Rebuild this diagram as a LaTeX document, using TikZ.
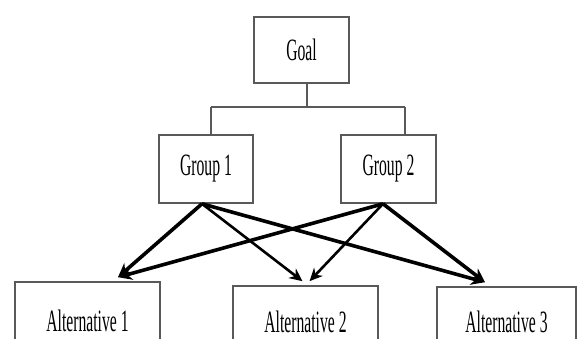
\documentclass[tikz,border=0pt]{standalone}
\usepackage{fontspec}
\setmainfont{Liberation Serif}
\usetikzlibrary{arrows.meta}
\newcommand{\nar}[1]{\scalebox{0.58}[1.15]{#1}}
\begin{document}
\begin{tikzpicture}[x=1pt,y=-1pt,
  box/.style={draw=black!65,line width=1.6pt,fill=white,inner sep=0pt,
    text=black,font=\fontsize{27}{32}\selectfont},
  link/.style={draw=black!65,line width=1.4pt},
  arr/.style={draw=black,line width=3.6pt,-{Stealth[length=14pt,width=13pt]}},
  arrthin/.style={draw=black,line width=2.6pt,-{Stealth[length=13pt,width=12pt]}}]
\clip (0,0) rectangle (581,338);
\fill[white] (0,0) rectangle (581,338);
% boxes
\node[box,minimum width=95pt,minimum height=66pt] (goal) at (301.5,50) {\nar{Goal}};
\node[box,minimum width=94pt,minimum height=68pt] (g1) at (206,169) {\nar{Group 1}};
\node[box,minimum width=95pt,minimum height=68pt] (g2) at (388.5,169) {\nar{Group 2}};
\node[box,minimum width=145pt,minimum height=78pt] (a1) at (87.5,321) {\nar{Alternative 1}};
\node[box,minimum width=145pt,minimum height=72pt] (a2) at (305.5,322) {\nar{Alternative 2}};
\node[box,minimum width=139pt,minimum height=70pt] (a3) at (506.5,322) {\nar{Alternative 3}};
% tree connector
\coordinate (gs) at ([xshift=5.5pt]goal.south);
\coordinate (h1) at (211,107);
\coordinate (h2) at (405,107);
\draw[link] (gs) -- (gs |- h1);
\draw[link] (h1) -- (h2);
\draw[link] (h1) -- (h1 |- g1.north);
\draw[link] (h2) -- (h2 |- g2.north);
% arrows
\coordinate (s1) at ([xshift=-4pt]g1.south);
\coordinate (s2) at ([xshift=-5.5pt]g2.south);
\coordinate (t1) at ([xshift=30.5pt,yshift=4pt]a1.north);
\coordinate (t2a) at ([xshift=-3pt,yshift=4pt]a2.north);
\coordinate (t2b) at ([xshift=4pt,yshift=4pt]a2.north);
\coordinate (t3) at ([xshift=-21.5pt,yshift=4pt]a3.north);
\draw[arr] (s1) -- (t1);
\draw[arrthin] (s1) -- (t2a);
\draw[arr] (s1) -- (t3);
\draw[arr] (s2) -- (t1);
\draw[arrthin] (s2) -- (t2b);
\draw[arr] (s2) -- (t3);
\end{tikzpicture}
\end{document}
